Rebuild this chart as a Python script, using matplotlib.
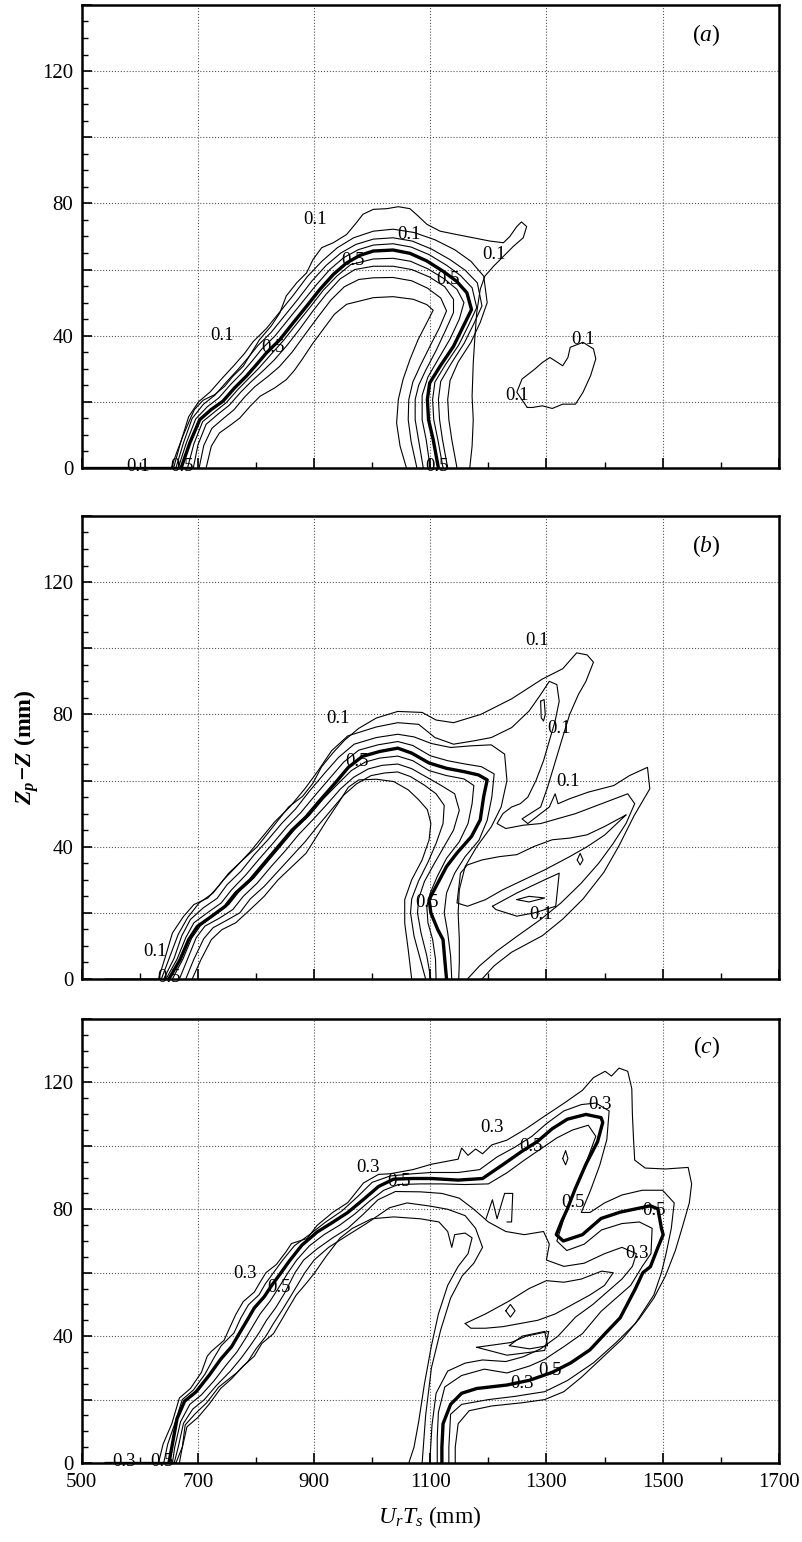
import matplotlib
matplotlib.use("Agg")
import matplotlib.pyplot as plt
from matplotlib.ticker import FixedLocator, MultipleLocator, FuncFormatter

plt.rcParams['font.family'] = ['Liberation Serif', 'DejaVu Serif']
plt.rcParams['mathtext.fontset'] = 'custom'
plt.rcParams['mathtext.rm'] = 'Liberation Serif'
plt.rcParams['mathtext.it'] = 'Liberation Serif:italic'
plt.rcParams['mathtext.bf'] = 'Liberation Serif:italic:bold'

# ---------------------------------------------------------------- panel (a)
# contour levels 0.1 ... 0.9, the 0.5 level is drawn heavy
a_base = [(500, 0), (690, 0)]
a_c01 = [(654, 0), (663, 4.5), (674, 9.6), (686, 14.6), (694, 17.7), (709, 20.5), (729, 22.2),
         (746, 24.7), (760, 27.7), (778, 30.8), (792, 34.8), (806, 38.8), (826, 42.9), (841, 46.9), (852, 52),
         (870, 56), (887, 59), (898, 63), (913, 66.6), (933, 68.1), (956, 70.6), (973, 74.2), (984, 76.7),
         (1002, 78.2), (1025, 78.4), (1045, 79), (1065, 78.4), (1079, 76.2), (1094, 73.7), (1117, 71.6),
         (1145, 70.6), (1174, 69.6), (1203, 68.6), (1226, 68.1), (1237, 70), (1249, 73), (1257, 74.4),
         (1266, 73), (1260, 69.6), (1243, 67), (1226, 64), (1209, 61), (1194, 58), (1186, 54), (1180, 47),
         (1177, 40), (1174, 31.8), (1172, 21.7), (1174, 14.6), (1172, 6.6), (1168, 0)]
a_c02 = [(658, 0), (670, 7.6), (684, 15.5), (701, 20), (721, 23), (741, 27), (762, 31), (780, 34.6), (795, 38.2),
         (818, 42.2), (841, 47.2), (864, 52.2), (888, 57.8), (914, 62.6), (940, 66.6), (968, 69.6), (1002, 71.6),
         (1036, 72.2), (1072, 71.2), (1108, 69), (1142, 66), (1170, 62.5), (1192, 58), (1198, 50), (1186, 44),
         (1170, 38), (1148, 32), (1134, 26.4), (1130, 20.7), (1132, 14.6), (1137, 8.6), (1146, 0)]
a_c03 = [(662, 0), (675, 7.6), (690, 15), (709, 19.2), (729, 22), (749, 26), (769, 29.8), (787, 33.5), (803, 37),
         (826, 41), (849, 46), (872, 51), (896, 56.5), (921, 61.3), (946, 65), (972, 67.6), (1002, 69.2),
         (1036, 69.6), (1069, 68.6), (1102, 66.2), (1134, 63), (1160, 59.8), (1181, 56), (1189, 49), (1175, 43.6),
         (1158, 37.6), (1136, 31.6), (1118, 26.2), (1114, 20.7), (1116, 14.6), (1121, 8.6), (1130, 0)]
a_c04 = [(666, 0), (680, 7.6), (696, 14.8), (716, 18.5), (736, 21.2), (756, 25.2), (776, 28.8), (794, 32.5),
         (810, 36), (833, 40), (856, 45), (879, 50), (903, 55.2), (927, 60), (951, 63.6), (976, 66), (1002, 67.4),
         (1036, 67.8), (1067, 66.8), (1098, 64.5), (1128, 61.3), (1152, 58.2), (1172, 54.5), (1180, 48.5),
         (1166, 43.2), (1149, 37.2), (1126, 31.2), (1108, 26), (1104, 20.7), (1106, 14.6), (1113, 8.6), (1122, 0)]
a_c05 = [(671, 0), (686, 7.6), (703, 14.6), (723, 17.7), (743, 20.2), (763, 24.2), (783, 27.7), (801, 31.3),
         (818, 34.8), (841, 38.8), (864, 43.9), (887, 48.9), (910, 54), (933, 58.5), (956, 62), (979, 64.3),
         (1002, 65.6), (1036, 65.9), (1065, 64.9), (1094, 62.6), (1122, 59.5), (1145, 56.5), (1163, 53),
         (1171, 47.9), (1157, 42.9), (1140, 36.8), (1117, 30.8), (1099, 25.7), (1095, 20.7), (1097, 14.6),
         (1105, 8.6), (1114, 0)]
a_c06 = [(682, 0), (693, 7.3), (708, 14), (729, 17), (749, 19.8), (768, 23.6), (787, 27), (806, 30.4), (824, 34),
         (847, 38.5), (870, 43.6), (893, 48.6), (916, 53.8), (939, 58), (963, 61.5), (1002, 63.2), (1036, 63.4),
         (1066, 62.5), (1096, 60.2), (1124, 57.2), (1146, 54), (1158, 50), (1150, 45), (1134, 39), (1114, 33),
         (1096, 27.5), (1086, 22), (1086, 14.6), (1093, 8.5), (1100, 0)]
a_c07 = [(692, 0), (700, 7), (714, 13.2), (734, 16.2), (754, 19), (773, 22.8), (791, 26), (811, 29.2), (831, 32.6),
         (853, 37), (876, 42.2), (898, 47.5), (921, 52.6), (945, 57.2), (970, 60), (1002, 61), (1036, 61),
         (1068, 60), (1098, 57.8), (1125, 54.8), (1140, 51), (1140, 47), (1126, 41.5), (1110, 35.5), (1092, 29.5),
         (1080, 25), (1074, 20.7), (1074, 14.6), (1080, 8.3), (1088, 0)]
a_c08 = [(702, 0), (710, 6.8), (724, 12), (744, 15), (762, 17.6), (780, 21.4), (798, 24.6), (820, 27.6),
         (840, 30.6), (862, 35), (884, 40.3), (906, 45.5), (929, 50.8), (952, 54.8), (977, 57), (1002, 57.5),
         (1036, 57.6), (1068, 56.6), (1095, 54.4), (1118, 51.4), (1128, 47.5), (1116, 42.5), (1100, 37),
         (1083, 31), (1070, 26), (1063, 20.7), (1062, 14.6), (1067, 8), (1077, 0)]
a_c09 = [(714, 0), (723, 6.6), (737, 10.6), (757, 13.1), (772, 15.1), (790, 18.7), (807, 21.7), (832, 24.2),
         (852, 26.7), (866, 29.5), (880, 33), (897, 37.5), (916, 42), (935, 46.5), (956, 49.5), (979, 50.5),
         (1002, 51.5), (1036, 51.8), (1071, 51), (1094, 49.4), (1105, 47.7), (1094, 43.9), (1079, 38.8),
         (1065, 32.8), (1053, 26.7), (1045, 20.7), (1042, 13.6), (1048, 6.6), (1059, 0)]
a_island = [(1267, 18.3), (1249, 22.9), (1258, 26.9), (1280, 29.9), (1293, 31.9), (1306, 33.4), (1315, 32.4),
            (1328, 30.9), (1337, 33.4), (1341, 36.5), (1363, 38), (1381, 36), (1385, 33), (1376, 27.9),
            (1363, 22.9), (1350, 19.3), (1328, 19.3), (1310, 18), (1293, 18.8), (1276, 18.3), (1267, 18.3)]
a_thin = [a_c01, a_c02, a_c03, a_c04, a_c06, a_c07, a_c08, a_c09, a_island]
a_heavy = [a_c05, a_base]
a_labels = [("0.1", 901, 75.2), ("0.1", 1064, 70.7), ("0.5", 967, 62.6), ("0.1", 1209, 64.6),
            ("0.5", 1130, 57.1), ("0.1", 742, 40), ("0.5", 830, 36.5), ("0.1", 1363, 39),
            ("0.1", 1249, 21.9), ("0.1", 597, 0.5), ("0.5", 672, 0.5), ("0.5", 1112, 0.5)]

# ---------------------------------------------------------------- panel (b)
b_c01 = [(540, 0), (632, 0), (644, 6.8), (656, 13.9), (675, 18.9), (693, 22.5), (717, 24.5), (735, 28), (753, 32),
         (777, 36), (802, 40), (820, 44), (838, 48), (856, 52), (880, 55.2), (898, 59.2), (913, 64.2),
         (932, 68.3), (953, 72.3), (977, 75.8), (1007, 78.9), (1044, 80.9), (1086, 80.6), (1110, 78.3),
         (1140, 77.5), (1187, 80), (1240, 84.7), (1293, 90.7), (1328, 93.8), (1352, 98.6), (1370, 98),
         (1381, 95.8), (1368, 90), (1355, 86), (1340, 80), (1326, 72), (1314, 65), (1302, 58), (1290, 52),
         (1272, 50), (1258, 48.4), (1268, 47), (1290, 50), (1305, 52), (1315, 56), (1320, 53), (1340, 54.5),
         (1372, 56.5), (1416, 58.5), (1443, 61.5), (1474, 64), (1478, 57.5), (1451, 49.4), (1425, 40.3),
         (1399, 32.3), (1363, 24.2), (1328, 18.1), (1293, 13.1), (1240, 8.1), (1210, 4), (1189, 0)]
b_c02 = [(637, 0), (651, 6.5), (666, 13.5), (682, 18.5), (702, 23), (726, 26), (744, 30), (766, 34), (790, 38.5),
         (811, 43), (832, 47.5), (858, 52), (884, 57.5), (907, 63), (930, 69), (958, 73.5), (1007, 76.2),
         (1044, 77.5), (1080, 77), (1108, 73), (1140, 71), (1175, 72), (1205, 73), (1240, 76), (1270, 81),
         (1290, 86), (1305, 90), (1318, 89), (1322, 84), (1315, 78), (1305, 72), (1295, 66), (1282, 60),
         (1268, 55), (1255, 53), (1240, 52), (1225, 50), (1215, 47), (1230, 45.5), (1260, 46.5), (1290, 47),
         (1320, 48.5), (1350, 50), (1380, 52), (1410, 54), (1440, 56), (1452, 53), (1437, 47), (1415, 41),
         (1390, 35), (1360, 29), (1325, 23), (1290, 18), (1250, 13), (1215, 8.5), (1185, 4), (1164, 0)]
b_c03 = [(641, 0), (659, 6.3), (672, 13), (687, 18), (709, 21.5), (733, 24.4), (750, 28.5), (774, 32.6),
         (797, 37.6), (820, 42), (844, 47), (868, 51.4), (892, 56.8), (917, 62), (942, 67), (969, 71),
         (1007, 73), (1044, 74), (1072, 73.2), (1102, 71.2), (1135, 70), (1170, 70.5), (1205, 70.8), (1228, 68),
         (1232, 60), (1222, 52), (1205, 46), (1180, 40), (1160, 34), (1150, 27), (1148, 20), (1150, 12),
         (1150, 5), (1149, 0)]
b_c04 = [(645, 0), (664, 6), (679, 12.5), (693, 17), (716, 20), (740, 23), (758, 27), (782, 31.4), (806, 36.4),
         (829, 41), (853, 46), (877, 50.3), (901, 55.4), (926, 60.5), (951, 65.6), (977, 69.2), (1010, 70.8),
         (1044, 71.8), (1070, 70.6), (1100, 67.5), (1130, 66), (1160, 65), (1188, 64.2), (1210, 62),
         (1206, 55), (1198, 48), (1184, 42), (1160, 37), (1142, 32), (1128, 26), (1124, 20), (1130, 14),
         (1135, 7), (1137, 0)]
b_c05 = [(650, 0), (669, 5.8), (684, 11.9), (699, 15.9), (723, 18.9), (747, 22), (765, 26), (790, 30), (814, 35),
         (838, 40), (862, 45), (886, 49), (910, 54), (935, 59), (959, 64), (983, 67.3), (1013, 68.8),
         (1044, 69.8), (1068, 68.3), (1098, 65.3), (1128, 63.7), (1158, 62.7), (1183, 61.7), (1198, 60.2),
         (1192, 55.2), (1186, 48.1), (1171, 43.1), (1146, 38.1), (1128, 34), (1110, 28), (1098, 24),
         (1101, 20), (1113, 14.9), (1122, 11.9), (1125, 5.8), (1128, 0)]
b_c06 = [(656, 0), (674, 6), (689, 12.3), (705, 16.3), (729, 19.4), (753, 22.5), (771, 26.5), (796, 30.5),
         (820, 35.5), (844, 40.5), (868, 45.5), (892, 49.5), (916, 54.5), (941, 59), (964, 63), (988, 65.6),
         (1013, 66.8), (1044, 67.4), (1070, 66), (1098, 63), (1128, 61.5), (1158, 60.5), (1175, 58.5),
         (1172, 53), (1165, 47), (1150, 41.5), (1128, 36.5), (1112, 31), (1100, 26), (1094, 22), (1096, 17),
         (1104, 12), (1109, 6), (1110, 0)]
b_c07 = [(668, 0), (682, 6), (697, 12.5), (712, 16), (737, 18.4), (760, 21), (778, 25), (802, 29), (826, 34),
         (850, 38.7), (873, 43.6), (897, 48), (921, 52.6), (945, 57.4), (968, 61), (993, 63.5), (1017, 64.6),
         (1044, 65), (1068, 63.6), (1094, 61), (1118, 58.6), (1142, 56), (1150, 51), (1140, 45), (1122, 39.5),
         (1105, 34.3), (1090, 29.5), (1080, 24.3), (1078, 20), (1084, 14), (1094, 7), (1101, 0)]
b_c08 = [(679, 0), (693, 6), (710, 12.2), (726, 15.5), (750, 17.8), (772, 20), (790, 24.2), (814, 28),
         (838, 32.6), (862, 37.2), (885, 41.6), (905, 46), (928, 50.8), (951, 55.6), (973, 59), (998, 61.5),
         (1022, 62.3), (1044, 62.6), (1066, 61.2), (1090, 58.6), (1110, 56), (1124, 52.5), (1122, 47),
         (1110, 41), (1096, 35.3), (1080, 29.7), (1068, 24.2), (1066, 20), (1072, 13), (1082, 6.5), (1092, 0)]
b_c09 = [(690, 0), (705, 5.8), (723, 11.9), (741, 14.9), (765, 17), (790, 21), (814, 25), (838, 30), (862, 34),
         (886, 38), (904, 43), (922, 48), (941, 53), (959, 58), (977, 60.2), (1007, 60.4), (1037, 59.7),
         (1062, 57.2), (1080, 54.2), (1095, 51.2), (1101, 47.1), (1098, 42.1), (1086, 36), (1068, 30),
         (1056, 24), (1056, 16.9), (1062, 8.9), (1068, 0)]
b_lobe1 = [(1437, 49.6), (1400, 46.1), (1370, 43.6), (1340, 42.6), (1310, 42.1), (1279, 40.1), (1249, 37.6),
           (1219, 37), (1189, 36), (1164, 34.5), (1152, 32), (1146, 23), (1164, 22), (1195, 24), (1225, 27),
           (1261, 30), (1297, 33), (1340, 37), (1370, 40), (1400, 43.5), (1437, 49.6)]
b_lobe2 = [(1207, 22), (1249, 26), (1297, 30), (1322, 32), (1316, 22), (1279, 20), (1249, 19), (1213, 21),
           (1207, 22)]
b_dot1 = [(1290, 84), (1296, 84.5), (1298, 80), (1295, 78), (1291, 79), (1290, 84)]
b_dot2 = [(1353, 36), (1358, 38), (1363, 36), (1358, 34.5), (1353, 36)]
b_dot3 = [(1249, 24), (1270, 25), (1297, 24.5), (1270, 23.3), (1249, 24)]
b_thin = [b_c01, b_c02, b_c03, b_c04, b_c06, b_c07, b_c08, b_c09, b_lobe1, b_lobe2, b_dot1, b_dot2, b_dot3]
b_heavy = [b_c05]
b_labels = [("0.1", 1284, 102.3), ("0.1", 941, 78.9), ("0.1", 1322, 75.8), ("0.5", 974, 65.8),
            ("0.1", 1337, 59.7), ("0.5", 1095, 23), ("0.1", 1291, 19.4), ("0.1", 626, 8.4),
            ("0.5", 650, 0.5)]

# ---------------------------------------------------------------- panel (c)
# contour levels 0.3 ... 0.9, the 0.5 level is drawn heavy
c_base = [(540, 0), (660, 0)]
c_c03 = [(632, 0), (640, 6), (655, 12.4), (668, 20.5), (687, 23.5), (706, 28.6), (716, 33.7),
         (723, 35.2), (745, 38.7), (755, 42.8), (765, 46.8), (778, 50.9), (797, 53.9), (807, 57), (817, 60),
         (835, 62.6), (852, 66.7), (861, 69.2), (888, 70.8), (905, 74.9), (932, 79), (958, 82.1), (985, 88.3),
         (1011, 91), (1031, 91.2), (1070, 92.5), (1102, 94.2), (1148, 95.8), (1154, 99.3), (1165, 97),
         (1178, 99), (1190, 97.5), (1206, 100.3), (1232, 101.8), (1265, 105.4), (1297, 109.4), (1330, 113.4),
         (1362, 117.5), (1381, 121.5), (1401, 123.5), (1412, 122), (1425, 124.5), (1440, 123.5), (1447, 118),
         (1448, 110), (1450, 102), (1452, 95.5), (1470, 93), (1505, 92.7),
         (1544, 93.2), (1550, 88), (1546, 82), (1535, 75), (1522, 67), (1505, 59), (1485, 52), (1460, 45.5),
         (1430, 39), (1395, 33), (1360, 27), (1330, 22.5), (1297, 20), (1258, 19), (1206, 18), (1167, 16.5),
         (1148, 12.4), (1143, 5), (1143, 0)]
c_c04 = [(641, 0), (648, 6), (660, 12.4), (673, 20), (692, 23), (712, 28), (727, 33), (740, 37), (762, 41),
         (774, 45.8), (787, 49.9), (805, 53), (816, 56.5), (830, 60), (846, 64), (866, 68.5), (892, 72),
         (920, 76), (948, 79.5), (975, 84), (1000, 88.5), (1031, 90.5), (1070, 91.2), (1102, 91.6), (1148, 91.6),
         (1185, 92.5), (1215, 96.5), (1245, 99.5), (1275, 103), (1300, 107), (1330, 111), (1360, 113),
         (1385, 113.5), (1408, 111), (1404, 102), (1392, 94), (1376, 86), (1360, 79), (1375, 79), (1400, 82),
         (1430, 84.5), (1465, 86), (1500, 86), (1520, 82), (1515, 74), (1506, 66), (1498, 60), (1485, 53),
         (1453, 44), (1420, 38), (1381, 31.6), (1336, 26), (1297, 22.5), (1245, 21), (1200, 20), (1154, 18.5),
         (1135, 15.4), (1132, 5), (1132, 0)]
c_c05 = [(650, 0), (656, 6), (664, 14), (677, 19.5), (697, 22.5), (719, 27.6), (739, 32.7), (758, 36.7),
         (771, 40.8), (784, 44.8), (797, 48.9), (814, 52.4), (827, 56), (843, 60), (857, 63.6), (879, 68.7),
         (905, 72.8), (932, 75.9), (958, 79), (985, 83.1), (1011, 87.2), (1037, 89.5), (1070, 89.7),
         (1102, 89.7), (1148, 89.2), (1190, 89.7), (1226, 94.2), (1258, 98.3), (1284, 101.3), (1310, 105.4),
         (1336, 108.4), (1368, 109.9), (1394, 108.9), (1397, 107.4), (1388, 101.3), (1368, 94.2), (1349, 86.2),
         (1336, 80.1), (1326, 76.1), (1317, 72), (1329, 70), (1362, 72), (1394, 77.1), (1427, 79.1),
         (1453, 80.1), (1479, 81.1), (1492, 80.1), (1498, 74), (1501, 72), (1492, 68), (1479, 61.9),
         (1466, 60), (1453, 54.9), (1427, 45.8), (1401, 40.8), (1375, 35.7), (1342, 31.6), (1310, 28.6),
         (1271, 26.1), (1232, 24.6), (1180, 23.5), (1154, 22), (1135, 18.5), (1122, 12.4), (1120, 5), (1120, 0)]
c_c06 = [(656, 0), (660, 5), (670, 13), (686, 18.5), (706, 21.5), (728, 26), (749, 31), (767, 35), (781, 39),
         (794, 43), (807, 47), (824, 51), (838, 55), (855, 60), (870, 64), (892, 68.5), (917, 72), (944, 75),
         (970, 78.5), (995, 82.5), (1020, 86), (1045, 87.8), (1083, 88), (1120, 88), (1160, 87.8), (1200, 88),
         (1232, 91.5), (1262, 95.5), (1290, 99), (1318, 102.5), (1345, 105), (1372, 106.5), (1385, 103),
         (1365, 93), (1345, 84), (1330, 77), (1318, 70), (1335, 67), (1365, 69), (1395, 73.5), (1430, 75.5),
         (1460, 76), (1482, 74), (1480, 66), (1465, 62), (1445, 56), (1420, 52), (1394, 47.8), (1362, 40.8),
         (1330, 36.7), (1297, 32.7), (1271, 30.6), (1232, 28.4), (1193, 29.6), (1154, 27.6), (1125, 24),
         (1114, 16), (1112, 8), (1112, 0)]
c_c07 = [(659, 0), (666, 5), (675, 12.5), (691, 17), (711, 20), (732, 24.5), (756, 29), (774, 33), (790, 37),
         (805, 41), (818, 45), (834, 49), (849, 53.5), (867, 60), (882, 64), (905, 67.5), (932, 71), (958, 74),
         (985, 78.5), (1010, 83), (1040, 85.6), (1083, 85.5), (1120, 85), (1150, 83.5), (1175, 80),
         (1200, 76), (1230, 73), (1262, 72), (1295, 73), (1305, 69), (1300, 64), (1330, 62), (1365, 63),
         (1400, 66), (1430, 68), (1455, 66), (1448, 62), (1430, 58), (1405, 54), (1380, 50), (1350, 46),
         (1320, 40), (1290, 36), (1260, 33.5), (1230, 32), (1190, 32.5), (1160, 31.5), (1130, 29), (1110, 22),
         (1103, 12), (1099, 0)]
c_c08 = [(662, 0), (673, 5), (678, 12), (695, 15.5), (715, 19), (736, 24), (767, 28.5), (786, 32), (800, 36),
         (817, 40), (830, 44), (846, 48.5), (861, 53), (884, 60), (900, 64), (925, 68), (955, 71.5), (990, 75.5),
         (1030, 80.5), (1060, 82), (1100, 81), (1130, 80), (1160, 78), (1178, 74), (1190, 68), (1175, 63),
         (1155, 59), (1135, 52), (1118, 42), (1102, 30), (1092, 15), (1086, 0)]
c_c09 = [(668, 0), (672, 4), (681, 11.4), (700, 14.4), (719, 18.5), (739, 23.5), (758, 26.6), (778, 30.6),
         (797, 33.7), (810, 37.7), (830, 40.8), (843, 44.8), (856, 48.9), (869, 52.9), (888, 57), (901, 60),
         (920, 65), (945, 71), (966, 74), (999, 77), (1037, 77.6), (1083, 77), (1115, 76), (1130, 73),
         (1137, 68), (1142, 72), (1160, 72.5), (1172, 71), (1165, 66), (1148, 62), (1130, 56), (1114, 47),
         (1102, 37), (1090, 25), (1080, 13), (1072, 5), (1063, 0)]
c_tongue = [(1160, 44), (1195, 47), (1235, 51), (1270, 55), (1300, 57.5), (1330, 57), (1360, 58), (1395, 60.5),
            (1415, 60), (1400, 56), (1375, 53), (1345, 50), (1315, 47), (1285, 45), (1255, 44), (1225, 43),
            (1195, 42.5), (1170, 42.5), (1160, 44)]
c_vee = [(1196, 77), (1207, 83), (1215, 77), (1228, 85), (1242, 85), (1240, 76), (1232, 76)]
c_loop1 = [(1180, 36.5), (1232, 34), (1297, 35.5), (1304, 41.5), (1265, 40), (1239, 38), (1180, 36.5)]
c_loop2 = [(1236, 37), (1258, 40), (1297, 41.5), (1302, 37), (1271, 36), (1236, 37)]
c_dot1 = [(1328, 96), (1333, 98.5), (1337, 96), (1333, 94), (1328, 96)]
c_dot2 = [(1230, 48), (1238, 50), (1246, 48), (1238, 46), (1230, 48)]
c_thin = [c_c03, c_c04, c_c06, c_c07, c_c08, c_c09, c_tongue, c_vee, c_loop1, c_loop2, c_dot1, c_dot2]
c_heavy = [c_c05, c_base]
c_labels = [("0.3", 992, 93.2), ("0.5", 1047, 88.7), ("0.3", 1206, 105.9), ("0.5", 1274, 99.8),
            ("0.3", 1393, 112.9), ("0.5", 1346, 82.1), ("0.5", 1485, 79.6), ("0.3", 1456, 66),
            ("0.3", 781, 59.9), ("0.5", 840, 55.4), ("0.5", 1307, 29.1), ("0.3", 1258, 25.1),
            ("0.3", 572, 0.5), ("0.5", 638, 0.5)]

panels = [("a", a_thin, a_heavy, a_labels),
          ("b", b_thin, b_heavy, b_labels),
          ("c", c_thin, c_heavy, c_labels)]

fig = plt.figure(figsize=(8.02, 15.42), dpi=100)
boxes = [[0.102, 0.6965, 0.869, 0.3003],
         [0.102, 0.3651, 0.869, 0.3003],
         [0.102, 0.0512, 0.869, 0.2880]]


def draw(ax, pts, lw):
    xs = [p[0] for p in pts]
    ys = [p[1] for p in pts]
    ax.plot(xs, ys, color='black', lw=lw, solid_joinstyle='round', solid_capstyle='round')


for (tag, thin, heavy, labels), box in zip(panels, boxes):
    ax = fig.add_axes(box)
    ax.set_xlim(500, 1700)
    ax.set_ylim(0, 140)
    for line in thin:
        draw(ax, line, 0.8)
    for line in heavy:
        draw(ax, line, 2.4)
    for txt, x, y in labels:
        ax.text(x, y, txt, fontsize=13.5, ha='center', va='center')
    ax.text(1575, 131, '(' + r'$' + tag + r'$' + ')', fontsize=17, ha='center', va='center')

    ax.xaxis.set_major_locator(FixedLocator(list(range(500, 1701, 200))))
    ax.xaxis.set_minor_locator(FixedLocator(list(range(600, 1700, 200))))
    ax.yaxis.set_major_locator(MultipleLocator(20))
    ax.yaxis.set_minor_locator(MultipleLocator(5))
    ax.yaxis.set_major_formatter(FuncFormatter(lambda v, p: '%d' % v if v % 40 == 0 else ''))
    ax.tick_params(which='major', direction='in', length=7, width=1.2, labelsize=15)
    ax.tick_params(which='minor', direction='in', length=4, width=1.0)
    ax.tick_params(axis='y', pad=6)
    ax.tick_params(axis='x', pad=7)
    ax.grid(True, which='major', linestyle=':', color='0.35', lw=0.8)
    for s in ax.spines.values():
        s.set_linewidth(1.8)
    if tag != 'c':
        ax.set_xticklabels([])
    else:
        ax.set_xlabel(r'$U_rT_s$ (mm)', fontsize=17, labelpad=9)
    if tag == 'b':
        ax.set_ylabel(r'$\mathbf{Z_p\!-\!Z}$ (mm)', fontsize=17, fontweight='bold', labelpad=1)

fig.savefig('out.png', dpi=100)
